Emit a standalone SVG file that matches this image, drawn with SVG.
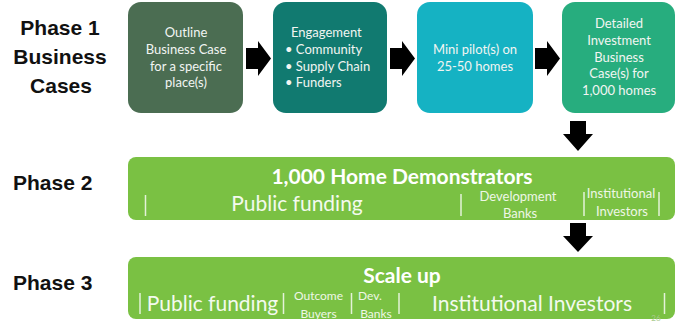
<svg xmlns="http://www.w3.org/2000/svg" width="676" height="327" viewBox="0 0 676 327">
<style>
.ph{font-family:"Liberation Sans",Arial,sans-serif;font-weight:bold;font-size:21px;fill:#111}
.bx{font-family:Lato,"Open Sans",sans-serif;font-size:13px;fill:#f2f5f2}
.ttl{font-family:Lato,"Open Sans",sans-serif;font-weight:bold;font-size:21px;fill:#fff}
.big{font-family:Lato,"Open Sans",sans-serif;font-size:21px;fill:#f3faee}
.sm{font-family:Lato,"Open Sans",sans-serif;font-size:13px;fill:#eef7e6}
.xs{font-family:Lato,"Open Sans",sans-serif;font-size:12px;fill:#eef7e6}
.sep{stroke:#e4f2d8;stroke-width:1.5}
.arr{fill:#000}
.bar{fill:#7ac143}
</style>
<g id="labels">
<text class="ph" x="60" y="35" text-anchor="middle">Phase 1</text>
<text class="ph" x="60" y="64" text-anchor="middle">Business</text>
<text class="ph" x="61" y="93" text-anchor="middle">Cases</text>
<text class="ph" x="13" y="190">Phase 2</text>
<text class="ph" x="13" y="290">Phase 3</text>
</g>
<g id="box1">
<rect x="128" y="2" width="115" height="111" rx="13" fill="#4b6d52"/>
<text class="bx" text-anchor="middle"><tspan x="186" y="37">Outline</tspan><tspan x="186" y="54">Business Case</tspan><tspan x="186" y="71">for a specific</tspan><tspan x="186" y="87">place(s)</tspan></text>
</g>
<g id="box2">
<rect x="273" y="2" width="114" height="111" rx="13" fill="#117a70"/>
<text class="bx"><tspan x="291" y="37">Engagement</tspan><tspan x="285" y="54">•  Community</tspan><tspan x="285" y="71">•  Supply Chain</tspan><tspan x="285" y="87">•  Funders</tspan></text>
</g>
<g id="box3">
<rect x="417" y="2" width="116" height="111" rx="13" fill="#15b2c3"/>
<text class="bx" text-anchor="middle"><tspan x="475" y="54">Mini pilot(s) on</tspan><tspan x="475" y="71">25-50 homes</tspan></text>
</g>
<g id="box4">
<rect x="562" y="2" width="113" height="111" rx="13" fill="#27ad7e"/>
<text class="bx" text-anchor="middle"><tspan x="619" y="28">Detailed</tspan><tspan x="619" y="45">Investment</tspan><tspan x="619" y="62">Business</tspan><tspan x="619" y="78">Case(s) for</tspan><tspan x="619" y="95">1,000 homes</tspan></text>
</g>
<g id="phase2">
<rect class="bar" x="128" y="157" width="547" height="63" rx="8"/>
<text class="ttl" x="402" y="184" text-anchor="middle">1,000 Home Demonstrators</text>
<line class="sep" x1="145.5" y1="195" x2="145.5" y2="216"/>
<text class="big" x="297" y="211" text-anchor="middle">Public funding</text>
<line class="sep" x1="461" y1="194" x2="461" y2="216"/>
<text class="sm" x="518" y="201" text-anchor="middle">Development</text>
<text class="sm" x="520" y="218" text-anchor="middle">Banks</text>
<line class="sep" x1="584" y1="192" x2="584" y2="216"/>
<text class="sm" x="621" y="198" text-anchor="middle">Institutional</text>
<text class="sm" x="622" y="216" text-anchor="middle">Investors</text>
<line class="sep" x1="659" y1="192" x2="659" y2="216"/>
</g>
<g id="phase3">
<rect class="bar" x="128" y="257" width="547" height="62" rx="8"/>
<text class="ttl" x="402" y="283" text-anchor="middle">Scale up</text>
<line class="sep" x1="140" y1="293" x2="140" y2="314"/>
<text class="big" x="212.5" y="311" text-anchor="middle">Public funding</text>
<line class="sep" x1="283.5" y1="293" x2="283.5" y2="314"/>
<text class="xs" x="318.5" y="300" text-anchor="middle">Outcome</text>
<text class="xs" x="318.5" y="318" text-anchor="middle">Buyers</text>
<line class="sep" x1="351.5" y1="293" x2="351.5" y2="314"/>
<text class="xs" x="370" y="300" text-anchor="middle">Dev.</text>
<text class="xs" x="376" y="318" text-anchor="middle">Banks</text>
<line class="sep" x1="399" y1="293" x2="399" y2="314"/>
<text class="big" x="532" y="311" text-anchor="middle">Institutional Investors</text>
<line class="sep" x1="664.5" y1="293" x2="664.5" y2="314"/>
<text x="656" y="321" text-anchor="middle" font-family="Lato,sans-serif" font-size="8" fill="#a9c98c">26</text>
</g>
<g id="connectors">
<polygon class="arr" points="246,48 258,48 258,41 271,58.5 258,76 258,69 246,69"/>
<polygon class="arr" points="390,48 402,48 402,41 415,58.5 402,76 402,69 390,69"/>
<polygon class="arr" points="535,48 547,48 547,41 560,58.5 547,76 547,69 535,69"/>
<polygon class="arr" points="570,121 586,121 586,134 593,134 578,151 563,134 570,134"/>
<polygon class="arr" points="570,223 586,223 586,236 593,236 578,252 563,236 570,236"/>
</g>
</svg>
